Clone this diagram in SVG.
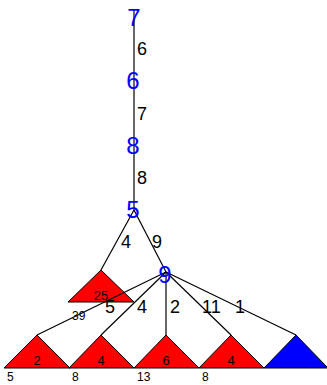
<svg xmlns="http://www.w3.org/2000/svg" width="327" height="385" viewBox="0 0 327 385">
<style>
.n{font-family:"Liberation Sans",Arial,sans-serif;font-size:24px;fill:#0000ff;text-anchor:middle}
.e{font-family:"Liberation Sans",Arial,sans-serif;font-size:18px;fill:#000}
.s{font-family:"Liberation Sans",Arial,sans-serif;font-size:13px;fill:#000}
.b{font-family:"Liberation Sans",Arial,sans-serif;font-size:12px;fill:#000}
.t{stroke:#000;stroke-width:1}
.l{stroke:#000;stroke-width:1.2;fill:none}
</style>
<rect width="327" height="385" fill="#fff"/>
<g id="triangles">
<polygon id="t25" class="t" points="101,270 68,302 134,302" fill="#ff0000"/>
<polygon id="t2" class="t" points="37,335 4,368 70,368" fill="#ff0000"/>
<polygon id="t4a" class="t" points="101,335 69,368 134,368" fill="#ff0000"/>
<polygon id="t6" class="t" points="166,335 134,368 199,368" fill="#ff0000"/>
<polygon id="t4b" class="t" points="231,335 199,368 264,368" fill="#ff0000"/>
<polygon id="tblue" class="t" points="296,335 264,368 328,368" fill="#0000ff"/>
</g>
<g id="connectors">
<line class="l" x1="134" y1="10" x2="134" y2="210"/>
<line class="l" x1="134" y1="210" x2="101" y2="270"/>
<line class="l" x1="134" y1="210" x2="166" y2="272"/>
<line class="l" x1="166" y1="272" x2="37" y2="335"/>
<line class="l" x1="166" y1="272" x2="101" y2="335"/>
<line class="l" x1="166" y1="272" x2="166" y2="335"/>
<line class="l" x1="166" y1="272" x2="231" y2="335"/>
<line class="l" x1="166" y1="272" x2="296" y2="335"/>
</g>
<g id="nodes">
<text id="n7" class="n" x="134" y="26">7</text>
<text id="n6" class="n" x="133" y="89">6</text>
<text id="n8" class="n" x="133" y="154">8</text>
<text id="n5" class="n" x="133" y="218">5</text>
<text id="n9" class="n" x="165" y="283">9</text>
</g>
<g id="labels">
<text class="e" x="137" y="55">6</text>
<text class="e" x="137" y="120">7</text>
<text class="e" x="137" y="184">8</text>
<text class="e" x="121" y="248">4</text>
<text class="e" x="152" y="248">9</text>
<text class="e" x="105" y="313">5</text>
<text class="e" x="137" y="313">4</text>
<text class="e" x="170" y="313">2</text>
<text class="e" x="202" y="313">11</text>
<text class="e" x="235" y="313">1</text>
<text class="s" x="101" y="300" text-anchor="middle">25</text>
<text class="b" x="72" y="320">39</text>
<text class="s" x="37" y="365" text-anchor="middle">2</text>
<text class="s" x="101" y="365" text-anchor="middle">4</text>
<text class="s" x="166" y="365" text-anchor="middle">6</text>
<text class="s" x="231" y="365" text-anchor="middle">4</text>
<text class="b" x="7" y="381">5</text>
<text class="b" x="72" y="381">8</text>
<text class="b" x="137" y="381">13</text>
<text class="b" x="202" y="381">8</text>
</g>
</svg>
